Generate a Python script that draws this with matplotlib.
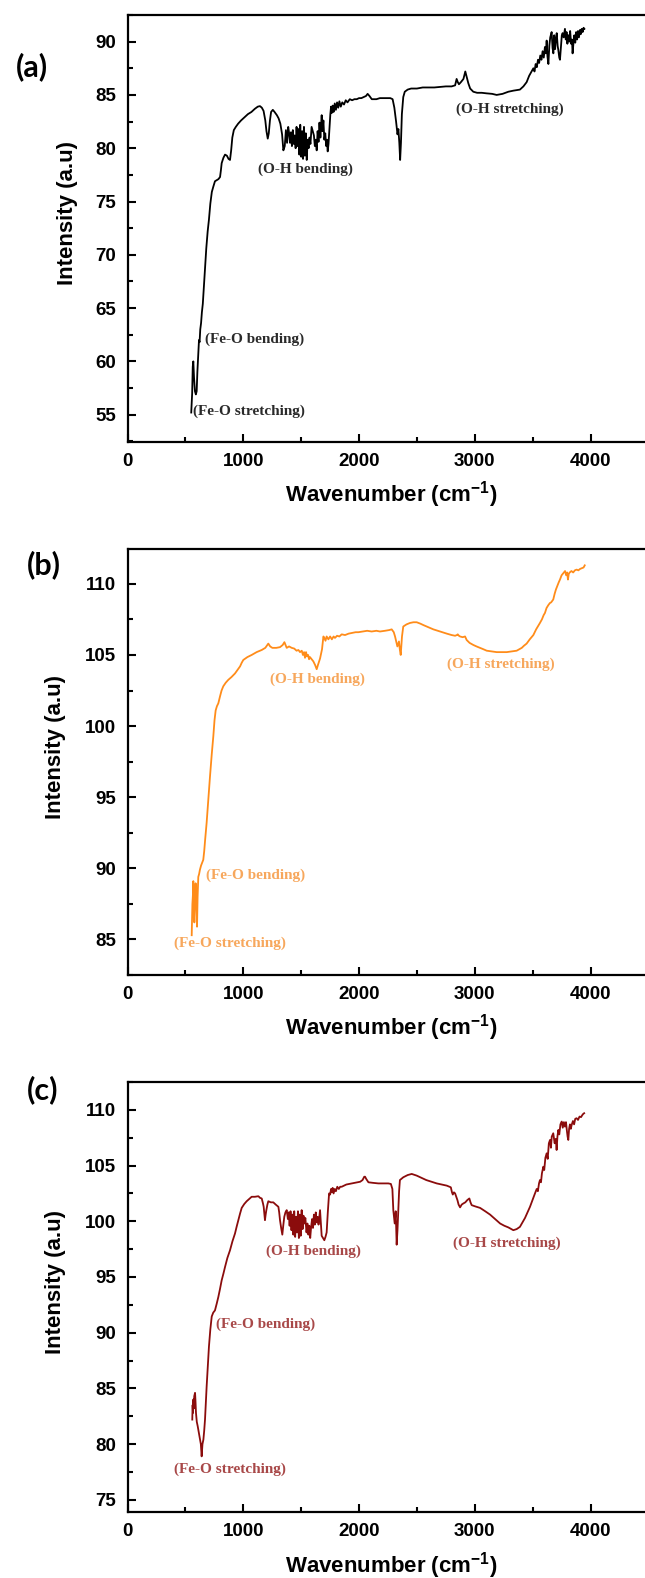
import matplotlib
matplotlib.use('Agg')
import matplotlib.pyplot as plt
from matplotlib.ticker import MultipleLocator

plt.rcParams['font.family'] = ['Liberation Sans', 'DejaVu Sans']
plt.rcParams['font.weight'] = 'bold'
plt.rcParams['mathtext.fontset'] = 'custom'
plt.rcParams['mathtext.rm'] = 'Liberation Sans:bold'
plt.rcParams['mathtext.it'] = 'Liberation Sans:bold'
plt.rcParams['mathtext.bf'] = 'Liberation Sans:bold'
plt.rcParams['mathtext.default'] = 'rm'

# ---- spectrum (a) ----
wn_a = [550, 558, 563, 568, 574, 582, 590, 597, 603, 610, 617, 622, 628, 635, 642, 650, 658, 669, 680, 692,
        703, 715, 728, 741, 755, 770, 785, 799, 806, 813, 828, 842, 858, 872, 885, 895, 905, 918, 935, 955,
        980, 1010, 1040, 1070, 1100, 1125, 1144, 1160, 1175, 1190, 1200, 1211, 1220, 1230, 1240, 1255, 1270, 1290, 1305, 1320,
        1335, 1346, 1358, 1368, 1378, 1388, 1396, 1404, 1412, 1420, 1428, 1436, 1444, 1452, 1460, 1468, 1476, 1484, 1492, 1500,
        1508, 1516, 1524, 1532, 1540, 1548, 1556, 1564, 1572, 1580, 1590, 1600, 1610, 1618, 1626, 1634, 1642, 1650, 1658, 1666,
        1677, 1684, 1692, 1700, 1708, 1716, 1722, 1729, 1736, 1744, 1752, 1758, 1764, 1772, 1780, 1790, 1800, 1810, 1820, 1830,
        1842, 1855, 1870, 1885, 1900, 1920, 1940, 1960, 1980, 2000, 2020, 2040, 2060, 2074, 2090, 2110, 2130, 2150, 2180, 2210,
        2240, 2270, 2290, 2305, 2320, 2332, 2340, 2348, 2355, 2362, 2370, 2382, 2395, 2420, 2450, 2500, 2550, 2600, 2650, 2700,
        2750, 2800, 2830, 2843, 2853, 2863, 2880, 2902, 2918, 2930, 2944, 2960, 2987, 3020, 3060, 3100, 3150, 3189, 3240, 3290,
        3333, 3390, 3420, 3448, 3470, 3490, 3506, 3516, 3526, 3536, 3546, 3556, 3566, 3576, 3586, 3596, 3606, 3614, 3621, 3628,
        3636, 3644, 3652, 3664, 3672, 3679, 3686, 3694, 3700, 3708, 3716, 3722, 3730, 3736, 3744, 3752, 3759, 3768, 3779, 3786,
        3793, 3800, 3808, 3816, 3824, 3832, 3840, 3845, 3852, 3860, 3868, 3876, 3884, 3892, 3900, 3909, 3916, 3924, 3932, 3940,
        3947]
int_a = [55.2, 57.0, 59.5, 60.0, 58.5, 57.2, 56.9, 57.2, 59.0, 60.5, 62.0, 61.8, 63.0, 63.6, 64.6, 65.4, 66.8, 68.6, 70.6, 72.2,
         73.3, 74.8, 75.9, 76.4, 76.9, 77.0, 77.1, 77.3, 77.9, 78.6, 79.1, 79.4, 79.3, 79.0, 78.9, 79.8, 81.0, 81.7, 82.0, 82.3,
         82.6, 82.9, 83.2, 83.4, 83.7, 83.9, 83.95, 83.8, 83.5, 82.6, 81.6, 80.9, 81.4, 82.6, 83.4, 83.6, 83.4, 83.1, 82.8, 82.3,
         81.3, 79.8, 80.2, 81.7, 80.5, 82.0, 81.4, 80.5, 81.5, 80.2, 81.7, 80.4, 81.2, 80.0, 82.0, 80.2, 81.8, 79.4, 82.2, 79.2,
         81.6, 79.0, 82.0, 79.3, 81.4, 78.9, 80.8, 80.0, 81.0, 80.4, 82.0, 81.6, 81.2, 80.2, 80.8, 79.8, 81.6, 80.6, 82.4, 81.0,
         83.1, 81.6, 82.6, 80.8, 81.4, 80.2, 80.8, 79.7, 80.4, 81.8, 83.2, 83.9, 83.3, 84.0, 83.4, 84.2, 83.6, 84.3, 83.8, 84.4,
         83.9, 84.3, 84.1, 84.5, 84.3, 84.6, 84.5, 84.6, 84.6, 84.7, 84.7, 84.8, 84.9, 85.1, 84.9, 84.6, 84.6, 84.6, 84.7, 84.7,
         84.7, 84.7, 84.6, 83.8, 82.5, 81.3, 81.8, 80.5, 78.9, 80.5, 83.2, 84.8, 85.3, 85.5, 85.6, 85.6, 85.7, 85.7, 85.7, 85.75,
         85.8, 85.8, 85.9, 86.5, 86.2, 86.0, 86.2, 86.5, 87.2, 86.7, 86.1, 85.6, 85.3, 85.2, 85.2, 85.15, 85.1, 85.0, 85.1, 85.3,
         85.4, 85.5, 85.8, 86.2, 86.8, 87.2, 87.5, 87.2, 87.9, 87.6, 88.3, 88.0, 88.7, 88.3, 89.1, 88.5, 89.5, 88.9, 90.1, 88.6,
         87.9, 89.6, 90.4, 90.9, 89.4, 88.9, 90.6, 89.3, 90.2, 90.8, 89.6, 89.2, 88.5, 88.3, 89.5, 90.6, 90.8, 90.4, 91.2, 90.2,
         90.9, 89.8, 90.6, 90.0, 91.0, 89.8, 90.2, 88.9, 89.8, 90.6, 89.9, 90.9, 90.2, 91.0, 90.4, 91.1, 90.7, 91.2, 90.9, 91.3,
         91.2]

# ---- spectrum (b) ----
wn_b = [554, 560, 565, 568, 572, 577, 582, 588, 594, 600, 605, 611, 618, 625, 635, 645, 654, 662, 670, 683,
        697, 712, 727, 741, 751, 761, 772, 784, 799, 812, 827, 848, 870, 898, 928, 950, 972, 986, 1000, 1035,
        1072, 1115, 1159, 1190, 1216, 1232, 1251, 1285, 1317, 1340, 1355, 1365, 1375, 1395, 1418, 1440, 1460, 1476, 1490, 1505,
        1515, 1525, 1533, 1542, 1550, 1560, 1568, 1576, 1590, 1605, 1620, 1634, 1645, 1663, 1680, 1692, 1700, 1710, 1720, 1735,
        1750, 1765, 1780, 1792, 1810, 1830, 1850, 1879, 1910, 1940, 1970, 1994, 2030, 2070, 2109, 2150, 2181, 2224, 2260, 2282,
        2300, 2311, 2331, 2345, 2352, 2360, 2366, 2371, 2382, 2410, 2440, 2470, 2498, 2530, 2556, 2600, 2642, 2700, 2758, 2800,
        2830, 2845, 2853, 2863, 2873, 2895, 2916, 2930, 2955, 2988, 3015, 3046, 3075, 3103, 3145, 3189, 3230, 3276, 3320, 3362,
        3385, 3406, 3425, 3448, 3475, 3506, 3530, 3545, 3563, 3580, 3595, 3606, 3620, 3635, 3649, 3660, 3678, 3690, 3701, 3715,
        3725, 3736, 3750, 3765, 3780, 3790, 3798, 3805, 3812, 3820, 3835, 3850, 3865, 3880, 3895, 3910, 3925, 3940, 3950]
int_b = [85.3, 87.5, 88.2, 89.1, 87.0, 86.2, 88.0, 88.95, 87.5, 85.9, 88.0, 89.4, 89.6, 89.9, 90.2, 90.4, 90.6, 91.2, 92.0, 93.2,
         94.8, 96.45, 98.0, 99.3, 100.4, 101.1, 101.4, 101.6, 102.1, 102.5, 102.8, 103.05, 103.25, 103.45, 103.7, 103.95, 104.2, 104.45, 104.65, 104.85,
         105.0, 105.2, 105.35, 105.5, 105.8, 105.6, 105.5, 105.5, 105.55, 105.7, 105.9, 105.7, 105.5, 105.6, 105.5, 105.45, 105.3, 105.35, 105.2, 105.3,
         105.0, 105.2, 104.8, 105.2, 104.9, 105.0, 104.7, 104.85, 104.7, 104.55, 104.3, 104.0, 104.3, 104.75, 105.4, 106.3, 106.2, 106.0, 106.3, 106.1,
         106.3, 106.1, 106.3, 106.2, 106.35, 106.3, 106.45, 106.4, 106.5, 106.55, 106.6, 106.6, 106.65, 106.7, 106.65, 106.7, 106.65, 106.7, 106.75, 106.8,
         106.6, 106.3, 105.6, 105.95, 105.4, 105.0, 105.7, 106.3, 107.0, 107.15, 107.25, 107.3, 107.3, 107.2, 107.1, 106.95, 106.8, 106.65, 106.5, 106.4,
         106.35, 106.4, 106.45, 106.35, 106.3, 106.25, 106.3, 106.05, 105.85, 105.7, 105.6, 105.5, 105.4, 105.3, 105.25, 105.2, 105.2, 105.2, 105.25, 105.3,
         105.4, 105.5, 105.65, 105.8, 106.1, 106.4, 106.8, 107.0, 107.25, 107.5, 107.8, 107.95, 108.3, 108.5, 108.65, 108.7, 108.9, 109.3, 109.6, 109.9,
         110.1, 110.3, 110.6, 110.75, 110.9, 110.6, 110.8, 110.3, 110.7, 110.8, 110.9, 110.8, 110.95, 111.0, 110.95, 111.05, 111.1, 111.15, 111.3]

# ---- spectrum (c) ----
wn_c = [559, 562, 565, 568, 572, 576, 583, 587, 591, 598, 606, 616, 626, 633, 640, 647, 655, 662, 669, 676,
        683, 693, 703, 715, 727, 740, 755, 770, 784, 798, 813, 828, 842, 862, 885, 906, 928, 942, 957, 972,
        986, 1008, 1029, 1050, 1072, 1100, 1130, 1145, 1159, 1170, 1176, 1182, 1187, 1193, 1199, 1208, 1216, 1238, 1259, 1280,
        1303, 1310, 1317, 1327, 1337, 1345, 1354, 1364, 1375, 1385, 1392, 1400, 1408, 1416, 1424, 1432, 1440, 1448, 1456, 1464,
        1472, 1480, 1488, 1496, 1504, 1512, 1520, 1528, 1536, 1546, 1554, 1562, 1570, 1578, 1586, 1594, 1602, 1610, 1618, 1626,
        1634, 1642, 1650, 1663, 1670, 1677, 1688, 1700, 1710, 1720, 1730, 1741, 1750, 1758, 1764, 1772, 1780, 1790, 1800, 1812,
        1825, 1837, 1850, 1870, 1890, 1915, 1937, 1960, 1985, 2010, 2030, 2045, 2052, 2062, 2081, 2120, 2167, 2210, 2253, 2275,
        2288, 2296, 2308, 2317, 2325, 2332, 2339, 2346, 2353, 2382, 2420, 2455, 2498, 2540, 2581, 2625, 2671, 2715, 2758, 2793,
        2803, 2810, 2820, 2830, 2840, 2850, 2860, 2873, 2887, 2901, 2918, 2935, 2953, 2963, 2973, 3000, 3046, 3090, 3132, 3175,
        3219, 3255, 3290, 3333, 3362, 3390, 3412, 3434, 3455, 3477, 3498, 3520, 3535, 3545, 3555, 3563, 3572, 3580, 3592, 3600,
        3610, 3621, 3630, 3640, 3650, 3658, 3665, 3678, 3690, 3700, 3707, 3714, 3722, 3730, 3740, 3751, 3760, 3770, 3779, 3788,
        3795, 3802, 3808, 3815, 3822, 3830, 3837, 3848, 3858, 3868, 3880, 3892, 3905, 3918, 3930, 3938, 3945]
int_c = [82.2, 83.5, 82.8, 84.0, 83.2, 84.3, 84.6, 83.8, 82.8, 82.0, 81.6, 81.0, 80.4, 80.0, 78.9, 80.0, 80.4, 81.2, 82.2, 83.7,
         85.15, 87.0, 88.75, 90.3, 91.45, 91.8, 92.0, 92.6, 93.2, 93.9, 94.7, 95.3, 95.9, 96.7, 97.4, 98.2, 98.9, 99.5, 100.1, 100.7,
         101.2, 101.55, 101.8, 102.0, 102.2, 102.2, 102.25, 102.1, 102.05, 101.6, 101.3, 100.6, 100.1, 100.6, 101.0, 101.5, 101.8, 101.7, 101.7, 101.5,
         101.3, 100.8, 100.1, 99.4, 98.8, 99.6, 100.4, 100.8, 101.0, 100.2, 100.8, 99.6, 100.9, 99.2, 100.6, 98.8, 100.9, 98.6, 100.4, 99.0,
         100.9, 98.5, 100.6, 98.7, 101.0, 99.3, 100.5, 99.8, 100.3, 99.0, 99.8, 98.8, 99.6, 98.5, 99.5, 100.2, 99.4, 100.6, 99.7, 100.8,
         99.9, 100.4, 99.7, 101.0, 99.8, 98.7, 98.5, 98.3, 98.6, 99.0, 100.8, 102.5, 102.4, 102.9, 102.6, 103.0, 102.5, 102.9, 102.7, 103.1,
         102.9, 103.1, 103.1, 103.2, 103.3, 103.35, 103.4, 103.45, 103.5, 103.55, 103.7, 104.0, 104.0, 103.8, 103.5, 103.45, 103.4, 103.4, 103.4, 103.35,
         102.9, 101.0, 99.8, 100.9, 97.9, 99.2, 101.0, 102.7, 103.7, 103.95, 104.15, 104.25, 104.1, 103.9, 103.7, 103.55, 103.4, 103.3, 103.2, 103.05,
         102.6, 102.4, 102.6, 102.5, 102.2, 101.9, 101.5, 101.25, 101.5, 101.6, 101.7, 101.9, 102.05, 101.7, 101.45, 101.35, 101.2, 100.9, 100.6, 100.2,
         99.8, 99.6, 99.45, 99.2, 99.3, 99.5, 99.9, 100.3, 100.8, 101.3, 101.9, 102.5, 102.9, 102.7, 103.4, 103.7, 103.5, 104.3, 104.9, 104.6,
         105.7, 106.1, 105.6, 107.0, 107.3, 106.6, 107.6, 107.9, 107.0, 107.4, 106.4, 107.6, 108.2, 107.8, 108.7, 108.95, 108.4, 108.9, 108.5, 108.9,
         108.2, 107.6, 107.3, 108.3, 108.7, 108.3, 108.65, 109.0, 108.7, 109.2, 109.25, 109.1, 109.4, 109.35, 109.55, 109.65, 109.7]

band_labels = ['(Fe-O stretching)', '(Fe-O bending)', '(O-H bending)', '(O-H stretching)']

fig = plt.figure(figsize=(6.45, 15.78), dpi=100)

panels = [
    # letter, x, y, line colour, text colour, ylim, axes rect, label spots, ylabel x, letter pos (px)
    ('(a)', wn_a, int_a, 'black', '#2a2a2a', (52.45, 92.5), [0.1978, 0.7200, 0.8254, 0.2705],
     [(565, 55.3, 'left'), (672, 62.1, 'left'), (1537, 78.0, 'center'), (3299, 83.7, 'center')],
     -0.093, (31.5, 67)),
    ('(b)', wn_b, int_b, '#ff8c1a', '#f7a75c', (82.5, 112.45), [0.1978, 0.3821, 0.8254, 0.2700],
     [(885, 84.76, 'center'), (680, 89.54, 'left'), (1637, 103.3, 'center'), (3224, 104.35, 'center')],
     -0.1165, (44, 565)),
    ('(c)', wn_c, int_c, '#8b0c0c', '#a84848', (73.9, 112.5), [0.1978, 0.0418, 0.8254, 0.2725],
     [(885, 77.77, 'center'), (760, 90.78, 'left'), (1609, 97.28, 'center'), (3280, 98.04, 'center')],
     -0.1165, (43, 1090)),
]

for letter, x, y, col, tcol, ylim, rect, spots, ylx, lpos in panels:
    ax = fig.add_axes(rect)
    ax.plot(x, y, color=col, lw=1.3)
    ax.set_xlim(0, 4600)
    ax.set_ylim(*ylim)
    ax.xaxis.set_major_locator(MultipleLocator(1000))
    ax.xaxis.set_minor_locator(MultipleLocator(500))
    ax.yaxis.set_major_locator(MultipleLocator(5))
    ax.yaxis.set_minor_locator(MultipleLocator(2.5))
    ax.tick_params(which='both', direction='in', width=1.5, labelsize=13.5, top=False, right=False)
    ax.tick_params(which='major', length=6, pad=8)
    ax.tick_params(which='minor', length=3.5)
    for s in ax.spines.values():
        s.set_linewidth(1.6)
    for lab in ax.get_xticklabels() + ax.get_yticklabels():
        lab.set_fontweight('bold')
    ax.set_ylabel('Intensity (a.u)', fontsize=16, fontweight='bold')
    ax.yaxis.set_label_coords(ylx, 0.535)
    ax.set_xlabel('Wavenumber (cm$^{-1}$)', fontsize=16, fontweight='bold')
    ax.xaxis.set_label_coords(0.495, -0.088)
    for lbl, (sx, sy, ha) in zip(band_labels, spots):
        ax.text(sx, sy, lbl, color=tcol, fontsize=11, fontweight='bold',
                family=['Liberation Serif', 'DejaVu Serif'], ha=ha, va='center')
    fig.text(lpos[0] / 645, 1 - lpos[1] / 1578, letter, fontsize=22, fontweight='bold',
             family=['Lato', 'DejaVu Sans'], ha='center', va='center')

fig.savefig('out.png', dpi=100)
